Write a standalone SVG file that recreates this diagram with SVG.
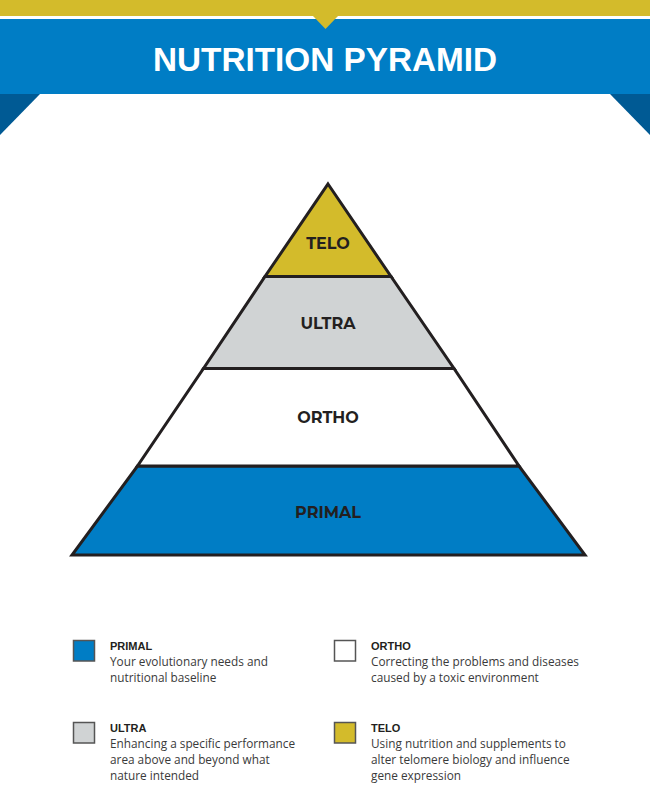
<svg xmlns="http://www.w3.org/2000/svg" width="650" height="785" viewBox="0 0 650 785">
<style>
.lvl{font-family:"Montserrat","Liberation Sans",Arial,sans-serif;font-weight:bold;font-size:16px;fill:#231f20;text-anchor:middle}
.lt{font-family:"Liberation Sans",Arial,sans-serif;font-weight:bold;font-size:11px;fill:#231f20}
.ld{font-family:"Open Sans","Liberation Sans",Arial,sans-serif;font-size:11.8px;fill:#3a3a3a}
.sw{stroke:#555;stroke-width:1.5}
.band{stroke:#231f20;stroke-width:3;stroke-linejoin:miter}
</style>
<rect width="650" height="785" fill="#fff"/>
<g id="header">
<rect x="0" y="0" width="650" height="16" fill="#d3bb2b"/>
<rect x="0" y="19" width="650" height="75" fill="#007dc5"/>
<polygon points="313,16 338,16 325.5,29" fill="#d3bb2b"/>
<polygon points="0,94 40,94 0,135" fill="#005a94"/>
<polygon points="610,94 650,94 650,135" fill="#005a94"/>
<text x="325" y="71" font-family="Liberation Sans, Arial, sans-serif" font-weight="bold" font-size="33" fill="#fff" text-anchor="middle" textLength="344" lengthAdjust="spacingAndGlyphs">NUTRITION PYRAMID</text>
</g>
<g id="primal">
<polygon class="band" points="137.5,466 519,466 585,555 72,555" fill="#007dc5"/>
<text class="lvl" x="328" y="518">PRIMAL</text>
</g>
<g id="ortho">
<polygon class="band" points="203.5,368.5 454,368.5 519,466 137.5,466" fill="#fff"/>
<text class="lvl" x="328" y="423">ORTHO</text>
</g>
<g id="ultra">
<polygon class="band" points="265,276.5 391,276.5 454,368.5 203.5,368.5" fill="#d0d3d4"/>
<text class="lvl" x="328" y="329">ULTRA</text>
</g>
<g id="telo">
<polygon class="band" points="328,184 391,276.5 265,276.5" fill="#d3bb2b"/>
<text class="lvl" x="328" y="249">TELO</text>
</g>
<g id="legend-primal">
<rect class="sw" x="73.5" y="640.5" width="21" height="20.5" fill="#007dc5"/>
<text class="lt" x="110" y="649.5">PRIMAL</text>
<text class="ld" x="110" y="665.5">Your evolutionary needs and</text>
<text class="ld" x="110" y="681.5">nutritional baseline</text>
</g>
<g id="legend-ortho">
<rect class="sw" x="334.5" y="640.5" width="21" height="20.5" fill="#fff"/>
<text class="lt" x="371" y="649.5">ORTHO</text>
<text class="ld" x="371" y="665.5">Correcting the problems and diseases</text>
<text class="ld" x="371" y="681.5">caused by a toxic environment</text>
</g>
<g id="legend-ultra">
<rect class="sw" x="73.5" y="722.5" width="21" height="20.5" fill="#d0d3d4"/>
<text class="lt" x="110" y="731.5">ULTRA</text>
<text class="ld" x="110" y="747.5">Enhancing a specific performance</text>
<text class="ld" x="110" y="763.5">area above and beyond what</text>
<text class="ld" x="110" y="779.5">nature intended</text>
</g>
<g id="legend-telo">
<rect class="sw" x="334.5" y="722.5" width="21" height="20.5" fill="#d3bb2b"/>
<text class="lt" x="371" y="731.5">TELO</text>
<text class="ld" x="371" y="747.5">Using nutrition and supplements to</text>
<text class="ld" x="371" y="763.5">alter telomere biology and influence</text>
<text class="ld" x="371" y="779.5">gene expression</text>
</g>
<g id="connectors"></g>
</svg>
